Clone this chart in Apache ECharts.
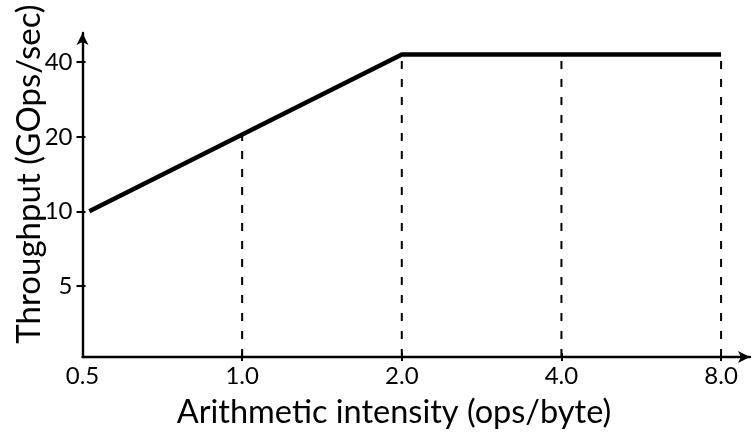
<!DOCTYPE html>
<html><head><meta charset="utf-8">
<script src="https://cdn.jsdelivr.net/npm/echarts@6/dist/echarts.min.js"></script>
<style>html,body{margin:0;padding:0;background:#fff}#c{width:754px;height:437px}</style>
</head><body><div id="c"></div>
<script>
// ---- data ----
const xTicks = [0.5, 1, 2, 4, 8];
const xTickLabels = ['0.5', '1.0', '2.0', '4.0', '8.0'];
const yTicks = [5, 10, 20, 40];
const yTickLabels = ['5', '10', '20', '40'];
const rooflineX = [0.515, 2, 8];
const rooflineY = [10, 43, 43];
const dropX = [1, 2, 4, 8];
const dropY = [20.7, 43, 43, 43];
const xName = 'Arithmetic intensity (ops/byte)';
const yName = 'Throughput (GOps/sec)';

// ---- axis extents ----
const X_MIN = 0.5, X_MAX = 9.07, Y_MIN = 2.58, Y_MAX = 52.5;
const FONT = 'Lato';

const chart = echarts.init(document.getElementById('c'), null, {renderer: 'canvas'});

function fmt(list, labels) {
  return function (v) {
    for (let i = 0; i < list.length; i++) if (Math.abs(list[i] - v) < 1e-6 * list[i]) return labels[i];
    return '';
  };
}

const baseX = {
  type: 'log', logBase: 2, min: X_MIN, max: X_MAX, position: 'bottom', splitLine: {show: false}
};
const baseY = {
  type: 'log', logBase: 2, min: Y_MIN, max: Y_MAX, position: 'left', splitLine: {show: false}
};

const series = [];
dropX.forEach(function (x, i) {
  series.push({
    type: 'line', silent: true, symbol: 'none', xAxisIndex: 0, yAxisIndex: 0,
    data: [[x, Y_MIN], [x, dropY[i]]],
    lineStyle: {color: '#000', width: 2, type: [8, 10]},
    z: 2
  });
});
series.push({
  type: 'line', silent: true, symbol: 'none', xAxisIndex: 0, yAxisIndex: 0,
  data: rooflineX.map(function (x, i) { return [x, rooflineY[i]]; }),
  lineStyle: {color: '#000', width: 4.6, cap: 'butt', join: 'miter'},
  z: 3
});

chart.setOption({
  animation: false,
  backgroundColor: '#fff',
  grid: {left: 82.5, right: 4, top: 33, bottom: 80, containLabel: false},
  xAxis: [
    Object.assign({}, baseX, {
      axisLine: {show: true, symbol: ['none', 'arrow'], symbolSize: [9, 12], lineStyle: {color: '#000', width: 2.4}},
      axisTick: {show: true, inside: false, length: 4, lineStyle: {color: '#000', width: 2}, customValues: xTicks.slice(1)},
      axisLabel: {show: true, margin: 7, color: '#000', fontFamily: FONT, fontSize: 24, customValues: xTicks, formatter: fmt(xTicks, xTickLabels)}
    }),
    Object.assign({}, baseX, {
      axisLine: {show: false},
      axisTick: {show: true, inside: true, length: 4, lineStyle: {color: '#000', width: 2}, customValues: xTicks.slice(1)},
      axisLabel: {show: false}
    })
  ],
  yAxis: [
    Object.assign({}, baseY, {
      axisLine: {show: true, symbol: ['none', 'arrow'], symbolSize: [9, 12], lineStyle: {color: '#000', width: 2.4}},
      axisTick: {show: true, inside: false, length: 6, lineStyle: {color: '#000', width: 2}, customValues: yTicks},
      axisLabel: {show: true, margin: 10, color: '#000', fontFamily: FONT, fontSize: 24, customValues: yTicks, formatter: fmt(yTicks, yTickLabels)}
    }),
    Object.assign({}, baseY, {
      axisLine: {show: false},
      axisTick: {show: true, inside: true, length: 3, lineStyle: {color: '#000', width: 2}, customValues: yTicks},
      axisLabel: {show: false}
    })
  ],
  graphic: [
    {type: 'text', x: 394, y: 413, style: {text: xName, font: '32.5px ' + FONT, fill: '#000', align: 'center', verticalAlign: 'middle'}},
    {type: 'text', x: 29, y: 174, rotation: Math.PI / 2, style: {text: yName, font: '33px ' + FONT, fill: '#000', align: 'center', verticalAlign: 'middle'}}
  ],
  series: series
});
</script>
</body></html>
